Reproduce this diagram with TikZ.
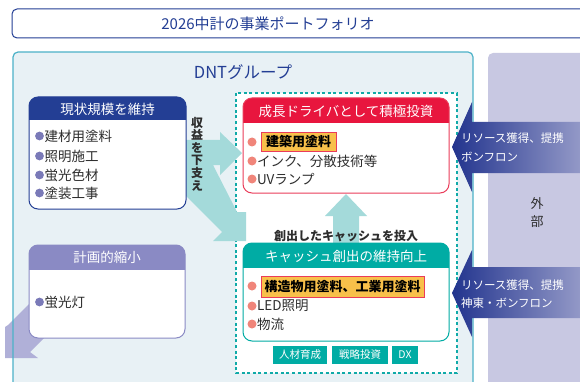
\documentclass[tikz,border=0pt]{standalone}
\usepackage{fontspec}
\setmainfont{Noto Sans CJK JP}
\definecolor{navy}{RGB}{35,62,148}
\definecolor{panel}{RGB}{232,241,245}
\definecolor{panelline}{RGB}{76,178,200}
\definecolor{ext}{RGB}{200,200,226}
\definecolor{dashc}{RGB}{16,170,168}
\definecolor{redh}{RGB}{232,22,62}
\definecolor{redline}{RGB}{234,60,90}
\definecolor{tealh}{RGB}{0,172,164}
\definecolor{lavh}{RGB}{138,138,196}
\definecolor{lavb}{RGB}{122,122,184}
\definecolor{salmon}{RGB}{240,133,122}
\definecolor{hilite}{RGB}{248,192,74}
\definecolor{lteal}{RGB}{164,218,218}
\definecolor{lavarrow}{RGB}{176,176,216}
\definecolor{txtgray}{RGB}{45,45,45}
\definecolor{arrnavy}{RGB}{34,52,142}
\begin{document}
\begin{tikzpicture}[x=1pt,y=-1pt,
  every node/.style={inner sep=0pt,outer sep=0pt},
  hdr/.style={text=white,font=\fontsize{13.5}{16}\selectfont},
  item/.style={anchor=west,text=txtgray,font=\fontsize{13.5}{16}\selectfont},
  hl/.style={font=\bfseries\fontsize{13}{15}\selectfont,text=black},
  hlbox/.style={fill=hilite,draw=redline,line width=0.8pt},
  tag/.style={fill=tealh,text=white,font=\fontsize{10.5}{12}\selectfont,minimum height=18pt},
  extxt/.style={anchor=west,text=white,font=\fontsize{11.5}{13}\selectfont},
  boxbody/.style={fill=white,rounded corners=9pt}]
\useasboundingbox (0,0) rectangle (580,382);
\clip (0,0) rectangle (580,382);
\fill[white] (0,0) rectangle (580,382);
% title
\draw[navy,line width=1pt,rounded corners=5pt,fill=white] (12,9) rectangle (640,38);
\node[text=navy,font=\fontsize{15}{18}\selectfont] (title) at (268,24) {2026中計の事業ポートフォリオ};
% panels
\fill[panel,rounded corners=5pt] (13,52) rectangle (473,420);
\fill[ext,rounded corners=5pt] (488,53) rectangle (640,420);
\node[font=\fontsize{13}{15}\selectfont,text=txtgray] (ext1) at (537,204) {外};
\node[font=\fontsize{13}{15}\selectfont,text=txtgray] (ext2) at (537,222) {部};
% lavender arrow (shrink)
\fill[lavarrow] (5,358) -- (5,327) -- (8,325) -- (35,298) -- (58,324) -- (30,352) -- (38,358) -- cycle;
\draw[panelline,line width=1.2pt,rounded corners=5pt] (13,52) rectangle (473,420);
\node[text=navy,font=\fontsize{16.5}{19}\selectfont] (dnt) at (243,72) {DNTグループ};
% dashed box
\draw[dashc,line width=1.6pt,dash pattern=on 3pt off 2.6pt,fill=white] (236,93) rectangle (457,373);
% light teal arrows
\fill[lteal] (180,140) -- (220,140) -- (220,132) -- (242,153) -- (220,175) -- (220,165) -- (213,165) -- (237,212) -- (246,212) -- (246,241) -- (213,241) -- (222,232) -- (180,190) -- cycle;
\fill[lteal] (333,243) -- (333,216) -- (325,216) -- (346,194) -- (367,216) -- (359,216) -- (359,243) -- cycle;
\node[font=\bfseries\fontsize{12}{14}\selectfont,text=txtgray] (cashin) at (346,236) {創出したキャッシュを投入};
\node[font=\bfseries\fontsize{12}{12.6}\selectfont,text=txtgray,align=center] (support) at (197,154) {収\\益\\を\\下\\支\\え};
% box 1 keep
\fill[boxbody] (29,97) rectangle (186,209);
\begin{scope}\clip (29,97) rectangle (186,120);
\fill[navy,rounded corners=9pt] (29,97) rectangle (186,209);
\end{scope}
\draw[navy,line width=1pt,rounded corners=9pt] (29,97) rectangle (186,209);
\node[hdr] (keep) at (107.5,109) {現状規模を維持};
\foreach \yy/\tt in {136/建材用塗料,156/照明施工,175/蛍光色材,193/塗装工事}{
  \fill[lavb] (39.5,\yy) circle (4.4pt);
  \node[item] at (44.5,\yy) {\tt};
}
% box 2 shrink
\fill[boxbody] (29,245) rectangle (185,338);
\begin{scope}\clip (29,245) rectangle (185,269);
\fill[lavh,rounded corners=9pt] (29,245) rectangle (185,338);
\end{scope}
\draw[lavh,line width=1pt,rounded corners=9pt] (29,245) rectangle (185,338);
\node[hdr] (shrink) at (107,257) {計画的縮小};
\fill[lavb] (39.5,302) circle (4.4pt);
\node[item] (lamp) at (44.5,302) {蛍光灯};
% box 3 grow
\fill[boxbody] (243,98) rectangle (449,193);
\begin{scope}\clip (243,98) rectangle (449,123);
\fill[redh,rounded corners=9pt] (243,98) rectangle (449,193);
\end{scope}
\draw[redline,line width=1pt,rounded corners=9pt] (243,98) rectangle (449,193);
\node[hdr] (grow) at (346,111) {成長ドライバとして積極投資};
\fill[salmon] (252,142) circle (4.5pt);
\fill[salmon] (252,161) circle (4.5pt);
\fill[salmon] (252,179) circle (4.5pt);
\draw[hlbox] (261,132) rectangle (336,151);
\node[hl] (g1) at (298.5,141.5) {建築用塗料};
\node[item] (g2) at (257,161) {インク、分散技術等};
\node[item] (g3) at (257,179) {UVランプ};
% box 4 cash
\fill[boxbody] (243,243) rectangle (449,341);
\begin{scope}\clip (243,243) rectangle (449,267);
\fill[tealh,rounded corners=9pt] (243,243) rectangle (449,341);
\end{scope}
\draw[tealh,line width=1pt,rounded corners=9pt] (243,243) rectangle (449,341);
\node[hdr] (cash) at (346,256) {キャッシュ創出の維持向上};
\fill[salmon] (252,286) circle (4.5pt);
\fill[salmon] (252,306) circle (4.5pt);
\fill[salmon] (252,324) circle (4.5pt);
\draw[hlbox] (261,276) rectangle (424,297);
\node[hl] (c1) at (342.5,286.5) {構造物用塗料、工業用塗料};
\node[item] (c2) at (257,306) {LED照明};
\node[item] (c3) at (257,324) {物流};
% tags
\node[tag,minimum width=54pt] (t1) at (300,355) {人材育成};
\node[tag,minimum width=56pt] (t2) at (360,355) {戦略投資};
\node[tag,minimum width=26pt] (t3) at (405,355) {DX};
% external arrows
\shade[left color=arrnavy,right color=ext] (452,147) -- (472,102) -- (472,122) -- (640,122) -- (640,173) -- (472,173) -- (472,192) -- cycle;
\node[extxt] (ea1) at (461,138) {リソース獲得、提携};
\node[extxt] (ea2) at (461,157) {ボンフロン};
\shade[left color=arrnavy,right color=ext] (452,293) -- (472,250) -- (472,267) -- (640,267) -- (640,318) -- (472,318) -- (472,337) -- cycle;
\node[extxt] (eb1) at (461,285) {リソース獲得、提携};
\node[extxt] (eb2) at (461,303) {神東・ボンフロン};
\end{tikzpicture}
\end{document}
